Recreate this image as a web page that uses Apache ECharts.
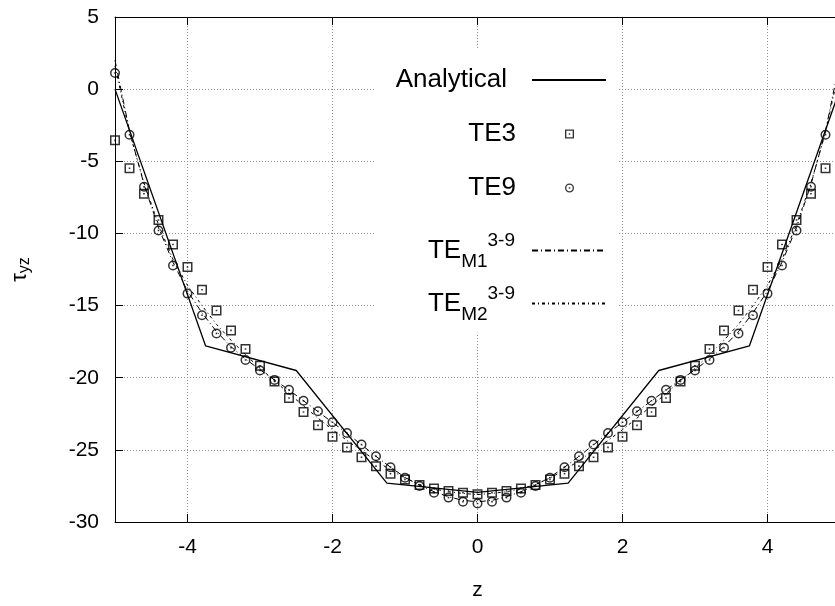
<!DOCTYPE html>
<html>
<head>
<meta charset="utf-8">
<script src="https://cdn.jsdelivr.net/npm/echarts@6/dist/echarts.min.js"></script>
<style>
html, body { margin: 0; padding: 0; background: #fff; }
#chart { width: 835px; height: 606px; }
</style>
</head>
<body>
<div id="chart"></div>
<script>
// thickness coordinate z and stress values
var zValues = [-5, -4.8, -4.6, -4.4, -4.2, -4, -3.8, -3.6, -3.4, -3.2, -3, -2.8, -2.6, -2.4, -2.2, -2,
  -1.8, -1.6, -1.4, -1.2, -1, -0.8, -0.6, -0.4, -0.2, 0, 0.2, 0.4, 0.6, 0.8, 1, 1.2, 1.4, 1.6, 1.8,
  2, 2.2, 2.4, 2.6, 2.8, 3, 3.2, 3.4, 3.6, 3.8, 4, 4.2, 4.4, 4.6, 4.8, 5];

var te3Values = [-3.55, -5.48, -7.25, -9.07, -10.77, -12.33, -13.9, -15.34, -16.72, -18.01, -19.17,
  -20.26, -21.41, -22.38, -23.3, -24.1, -24.83, -25.51, -26.13, -26.66, -27.05, -27.43, -27.67,
  -27.85, -27.97, -28.08, -27.97, -27.85, -27.67, -27.43, -27.05, -26.66, -26.13, -25.51, -24.83,
  -24.1, -23.3, -22.38, -21.41, -20.26, -19.17, -18.01, -16.72, -15.34, -13.9, -12.33, -10.77,
  -9.07, -7.25, -5.48, -3.55];

var te9Values = [1.12, -3.16, -6.77, -9.8, -12.22, -14.17, -15.67, -16.93, -17.92, -18.77, -19.5,
  -20.15, -20.84, -21.6, -22.33, -23.09, -23.83, -24.63, -25.44, -26.2, -26.93, -27.5, -27.97,
  -28.31, -28.59, -28.72, -28.59, -28.31, -27.97, -27.5, -26.93, -26.2, -25.44, -24.63, -23.83,
  -23.09, -22.33, -21.6, -20.84, -20.15, -19.5, -18.77, -17.92, -16.93, -15.67, -14.17, -12.22,
  -9.8, -6.77, -3.16, 1.12];

var teM1Values = [2.0, -2.9, -6.6, -9.6, -12.0, -14.0, -15.5, -16.8, -17.85, -18.7, -19.45,
  -20.15, -20.85, -21.6, -22.35, -23.1, -23.85, -24.65, -25.45, -26.2, -26.9, -27.45, -27.9,
  -28.25, -28.5, -28.6, -28.5, -28.25, -27.9, -27.45, -26.9, -26.2, -25.45, -24.65, -23.85,
  -23.1, -22.35, -21.6, -20.85, -20.15, -19.45, -18.7, -17.85, -16.8, -15.5, -14.0, -12.0,
  -9.6, -6.6, -2.9, 2.0];

var teM2Values = [1.6, -3.0, -6.5, -9.4, -11.8, -13.6, -15.0, -16.3, -17.4, -18.4, -19.35,
  -20.2, -21.1, -21.95, -22.8, -23.6, -24.35, -25.05, -25.75, -26.4, -26.95, -27.4, -27.7,
  -27.9, -28.02, -28.1, -28.02, -27.9, -27.7, -27.4, -26.95, -26.4, -25.75, -25.05, -24.35,
  -23.6, -22.8, -21.95, -21.1, -20.2, -19.35, -18.4, -17.4, -16.3, -15.0, -13.6, -11.8,
  -9.4, -6.5, -3.0, 1.6];

var analyticalZ = [-5, -3.75, -2.5, -1.25, 0, 1.25, 2.5, 3.75, 5];
var analyticalValues = [0, -17.8, -19.5, -27.3, -27.95, -27.3, -19.5, -17.8, 0];

var seriesNames = ['Analytical', 'TE3', 'TE9', 'TEM1', 'TEM2'];

function pairs(xs, ys) {
  var out = [];
  for (var i = 0; i < xs.length; i++) out.push([xs[i], ys[i]]);
  return out;
}

var squareDot = 'path://M0,0H100V100H0Z M15,15V85H85V15Z M42,42H58V58H42Z';
var circleDot = 'path://M50,0A50,50,0,1,1,50,100A50,50,0,1,1,50,0Z M50,15A35,35,0,1,0,50,85A35,35,0,1,0,50,15Z M42,42H58V58H42Z';

var font = 'Liberation Sans, Arial, sans-serif';
var rich = {
  b: { fontSize: 26, fontFamily: font, color: '#000', lineHeight: 44 },
  sub: { fontSize: 19, fontFamily: font, color: '#000', lineHeight: 44, padding: [22, 0, 0, 0] },
  sup: { fontSize: 19, fontFamily: font, color: '#000', lineHeight: 44, padding: [0, 0, 20, 0] }
};

function legendLabel(name) {
  if (name === 'TEM1') return '{b|TE}{sub|M1}{sup|3-9}';
  if (name === 'TEM2') return '{b|TE}{sub|M2}{sup|3-9}';
  return '{b|' + name + '}';
}

// one legend per entry so each label is right aligned against its sample
var legendTops = [67, 121, 175, 230, 283];
var legendRight = [228, 261, 261, 228, 228];
var legendIconW = [74, 9, 9, 74, 74];
var legendPads = [20, 44, 44, 12, 12];
var legends = [];
for (var k = 0; k < seriesNames.length; k++) {
  var isLine = legendIconW[k] > 20;
  legends.push({
    data: [seriesNames[k]],
    right: legendRight[k],
    top: legendTops[k],
    align: 'right',
    orient: 'vertical',
    padding: 0,
    itemWidth: legendIconW[k],
    itemHeight: isLine ? 8 : 9,
    itemStyle: isLine ? { opacity: 0 } : {},
    selectedMode: false,
    formatter: legendLabel,
    textStyle: { rich: rich, padding: [0, legendPads[k], 0, 0] }
  });
}

var chart = echarts.init(document.getElementById('chart'));
var option = {
  backgroundColor: '#fff',
  animation: false,
  // the plot runs a few pixels past the right edge of the picture
  grid: { left: 115, top: 17, width: 725, height: 505, outerBoundsMode: 'none' },
  graphic: [{
    type: 'rect', z: 1, silent: true,
    shape: { x: 376, y: 50, width: 242, height: 284 },
    style: { fill: '#fff' }
  }],
  legend: legends,
  xAxis: [{
    type: 'value', min: -5, max: 5, splitNumber: 5,
    name: 'z', nameLocation: 'middle', nameGap: 58,
    nameTextStyle: { fontSize: 21, fontFamily: font, color: '#000' },
    axisLine: { onZero: false, lineStyle: { color: '#000', width: 1 } },
    axisTick: { inside: true, length: 8, lineStyle: { color: '#000' } },
    axisLabel: { fontSize: 21, fontFamily: font, color: '#000', margin: 15,
      showMinLabel: false, showMaxLabel: false },
    splitLine: { lineStyle: { color: '#909090', type: [1, 2], width: 1 } }
  }, {
    type: 'value', min: -5, max: 5, splitNumber: 5, position: 'top',
    axisLine: { onZero: false, lineStyle: { color: '#000', width: 1 } },
    axisTick: { inside: true, length: 8, lineStyle: { color: '#000' } },
    axisLabel: { show: false },
    splitLine: { show: false }
  }],
  yAxis: {
    type: 'value', min: -30, max: 5, interval: 5,
    name: '{t|τ}{s|yz}', nameLocation: 'middle', nameGap: 82, nameRotate: 90,
    nameTextStyle: { rich: {
      t: { fontSize: 22, fontFamily: font, color: '#000' },
      s: { fontSize: 16, fontFamily: font, color: '#000', padding: [10, 0, 0, 0] }
    } },
    axisLine: { show: true, onZero: false, lineStyle: { color: '#000', width: 1 } },
    axisTick: { show: true, inside: true, length: 8, lineStyle: { color: '#000' } },
    axisLabel: { fontSize: 21, fontFamily: font, color: '#000', margin: 16 },
    splitLine: { lineStyle: { color: '#909090', type: [1, 2], width: 1 } }
  },
  series: [{
    name: 'Analytical', type: 'line', data: pairs(analyticalZ, analyticalValues),
    symbol: 'none', lineStyle: { color: '#000', width: 1.3 }, itemStyle: { color: '#000' }, z: 3
  }, {
    name: 'TE3', type: 'scatter', data: pairs(zValues, te3Values),
    symbol: squareDot, symbolSize: 10, symbolKeepAspect: true,
    itemStyle: { color: '#000' }, z: 5
  }, {
    name: 'TE9', type: 'scatter', data: pairs(zValues, te9Values),
    symbol: circleDot, symbolSize: 10, symbolKeepAspect: true,
    itemStyle: { color: '#000' }, z: 5
  }, {
    name: 'TEM1', type: 'line', data: pairs(zValues, teM1Values),
    symbol: 'none', lineStyle: { color: '#000', width: 1, type: [6, 3, 1, 3] },
    itemStyle: { color: '#000' }, z: 4
  }, {
    name: 'TEM2', type: 'line', data: pairs(zValues, teM2Values),
    symbol: 'none', lineStyle: { color: '#000', width: 1, type: [3, 3, 1, 3] },
    itemStyle: { color: '#000' }, z: 4
  }]
};
chart.setOption(option);
</script>
</body>
</html>
